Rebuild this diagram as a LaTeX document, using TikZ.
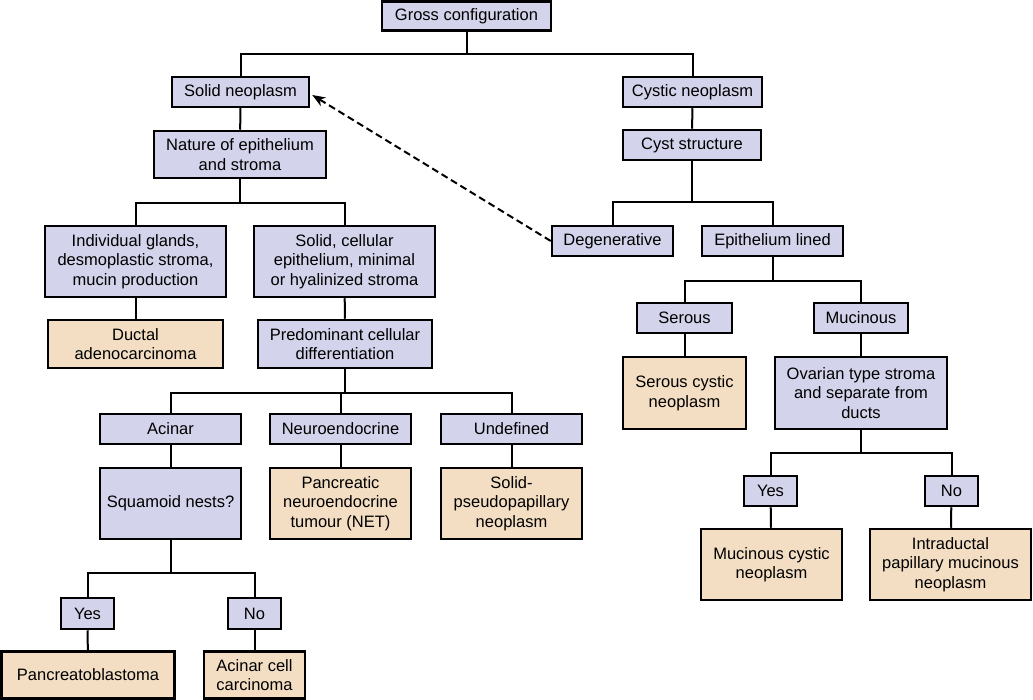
\documentclass[tikz,border=0pt]{standalone}
\usepackage{fontspec}
\setmainfont{Liberation Sans}
\usetikzlibrary{arrows.meta}
\definecolor{pur}{RGB}{211,211,235}
\definecolor{tan}{RGB}{243,222,196}
\begin{document}
\begin{tikzpicture}[x=1pt,y=-1pt,
  base/.style={draw=black,line width=2.5pt,inner sep=0pt,align=center,
    font=\fontsize{16.5}{19.5}\selectfont},
  pbox/.style={base,fill=pur},
  tbox/.style={base,fill=tan},
  conn/.style={line width=2pt,draw=black},
  dasharrow/.style={line width=2pt,dash pattern=on 7pt off 4pt,-{Stealth[length=13pt,width=10pt,inset=4pt]}}]
\useasboundingbox (0,0) rectangle (1033,700);
\fill[white] (0,0) rectangle (1033,700);
% nodes
\node[pbox,minimum width=169,minimum height=29] (gross) at (466.5,16) {Gross configuration};
\node[pbox,minimum width=137,minimum height=30] (solid) at (240.5,92) {Solid neoplasm};
\node[pbox,minimum width=139,minimum height=30] (cystic) at (692.5,92) {Cystic neoplasm};
\node[pbox,minimum width=172,minimum height=47] (nature) at (240,154.5) {Nature of epithelium\\and stroma};
\node[pbox,minimum width=138,minimum height=30] (cyst) at (692,145) {Cyst structure};
\node[pbox,minimum width=181,minimum height=71] (indiv) at (135.5,261.5) {Individual glands,\\desmoplastic stroma,\\mucin production};
\node[pbox,minimum width=181,minimum height=71] (solcell) at (344.5,261.5) {Solid, cellular\\epithelium, minimal\\or hyalinized stroma};
\node[pbox,minimum width=121,minimum height=30] (degen) at (612.5,241) {Degenerative};
\node[pbox,minimum width=141,minimum height=30] (epil) at (772.5,241) {Epithelium lined};
\node[tbox,minimum width=175,minimum height=48] (ductal) at (135.5,344) {Ductal\\adenocarcinoma};
\node[pbox,minimum width=174,minimum height=48] (predom) at (345,344) {Predominant cellular\\differentiation};
\node[pbox,minimum width=95,minimum height=30] (serous) at (684.5,318) {Serous};
\node[pbox,minimum width=94,minimum height=30] (mucin) at (861,318) {Mucinous};
\node[tbox,minimum width=123,minimum height=72] (scn) at (684.5,393) {Serous cystic\\neoplasm};
\node[pbox,minimum width=172,minimum height=72] (ovar) at (861,393) {Ovarian type stroma\\and separate from\\ducts};
\node[pbox,minimum width=141,minimum height=30] (acinar) at (170.5,429) {Acinar};
\node[pbox,minimum width=141,minimum height=30] (neuro) at (340.5,429) {Neuroendocrine};
\node[pbox,minimum width=141,minimum height=30] (undef) at (511.5,429) {Undefined};
\node[pbox,minimum width=141,minimum height=71] (squam) at (170.5,503.5) {Squamoid nests?};
\node[tbox,minimum width=141,minimum height=71] (net) at (340.5,503.5) {Pancreatic\\neuroendocrine\\tumour (NET)};
\node[tbox,minimum width=141,minimum height=71] (spn) at (511.5,503.5) {Solid-\\pseudopapillary\\neoplasm};
\node[pbox,minimum width=53,minimum height=30] (yesr) at (770.5,491) {Yes};
\node[pbox,minimum width=53,minimum height=30] (nor) at (951.5,491) {No};
\node[tbox,minimum width=141,minimum height=71] (mcn) at (771.5,564.5) {Mucinous cystic\\neoplasm};
\node[tbox,minimum width=161,minimum height=71] (ipmn) at (950.5,564.5) {Intraductal\\papillary mucinous\\neoplasm};
\node[pbox,minimum width=53,minimum height=31] (yesl) at (87.5,613.5) {Yes};
\node[pbox,minimum width=53,minimum height=31] (nol) at (254.5,613.5) {No};
\node[tbox,minimum width=173,minimum height=47] (pblast) at (88,675) {Pancreatoblastoma};
\node[tbox,minimum width=101,minimum height=47] (acc) at (254.5,675) {Acinar cell\\carcinoma};
% connectors
\draw[conn] (gross.south) -- ++(0,22.5) -| (solid.north);
\draw[conn] (gross.south) -- ++(0,22.5) -| (cystic.north);
\draw[conn] (solid) -- (nature);
\draw[conn] (cystic) -- (cyst);
\draw[conn] (nature.south) -- ++(0,23.5) -| (indiv.north);
\draw[conn] (nature.south) -- ++(0,23.5) -| (solcell.north);
\draw[conn] (cyst.south) -- ++(0,41) -| (degen.north);
\draw[conn] (cyst.south) -- ++(0,41) -| (epil.north);
\draw[conn] (indiv) -- (ductal);
\draw[conn] (solcell) -- (predom);
\draw[conn] (epil.south) -- ++(0,24) -| (serous.north);
\draw[conn] (epil.south) -- ++(0,24) -| (mucin.north);
\draw[conn] (serous) -- (scn);
\draw[conn] (mucin) -- (ovar);
\draw[conn] (predom.south) -- ++(0,24) -| (acinar.north);
\draw[conn] (predom.south) -- ++(0,24) -| (neuro.north);
\draw[conn] (predom.south) -- ++(0,24) -| (undef.north);
\draw[conn] (acinar) -- (squam);
\draw[conn] (neuro) -- (net);
\draw[conn] (undef) -- (spn);
\draw[conn] (ovar.south) -- ++(0,22.5) -| (yesr.north);
\draw[conn] (ovar.south) -- ++(0,22.5) -| (nor.north);
\draw[conn] (yesr) -- (mcn);
\draw[conn] (nor) -- (ipmn);
\draw[conn] (squam.south) -- ++(0,33) -| (yesl.north);
\draw[conn] (squam.south) -- ++(0,33) -| (nol.north);
\draw[conn] (yesl) -- (pblast);
\draw[conn] (nol) -- (acc);
\draw[dasharrow] (degen.west) -- ([xshift=2pt,yshift=-3pt]solid.east);
\end{tikzpicture}
\end{document}
